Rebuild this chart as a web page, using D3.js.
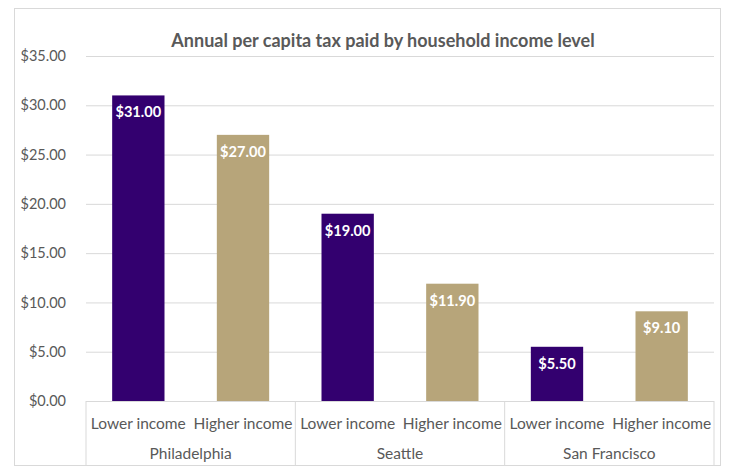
<!DOCTYPE html>
<html>
<head>
<meta charset="utf-8">
<script src="https://cdn.jsdelivr.net/npm/d3@7"></script>
<style>
  body { margin: 0; background: #fff; }
  text { font-family: Lato, "Noto Sans", sans-serif; }
</style>
</head>
<body>
<svg id="chart" width="729" height="472"></svg>
<script>
// data
var cities = ["Philadelphia", "Seattle", "San Francisco"];
var levels = ["Lower income", "Higher income"];
var lowerValues = [31.0, 19.0, 5.5];
var higherValues = [27.0, 11.9, 9.1];
var yTicks = [0, 5, 10, 15, 20, 25, 30, 35];

var colors = {"Lower income": "#33006F", "Higher income": "#B7A57A"};

var svg = d3.select("#chart");

var margin = {top: 56, right: 15, bottom: 71, left: 86},
    width = 714 - margin.left,
    height = 401 - margin.top;

// outer frame
svg.append("rect")
    .attr("x", 14.5).attr("y", 8.5)
    .attr("width", 706).attr("height", 457)
    .attr("fill", "#fff")
    .attr("stroke", "#d9d9d9");

svg.append("text")
    .attr("x", 383).attr("y", 47)
    .attr("text-anchor", "middle")
    .attr("font-size", 18)
    .attr("font-weight", "bold")
    .attr("fill", "#595959")
    .text("Annual per capita tax paid by household income level");

var rows = [];
cities.forEach(function (c, i) {
    rows.push({city: c, level: levels[0], value: lowerValues[i]});
    rows.push({city: c, level: levels[1], value: higherValues[i]});
});

var g = svg.append("g")
    .attr("transform", "translate(" + margin.left + "," + margin.top + ")");

var x = d3.scaleBand()
    .domain(rows.map(function (d, i) { return i; }))
    .range([0, width])
    .paddingInner(0.5)
    .paddingOuter(0.25);

var y = d3.scaleLinear().domain([0, 35]).range([height, 0]);

// gridlines + y labels
var yAxis = d3.axisLeft(y)
    .tickValues(yTicks)
    .tickSize(-width)
    .tickPadding(20)
    .tickFormat(function (d) { return "$" + d3.format(".2f")(d); });

g.append("g")
    .call(yAxis)
    .call(function (s) {
        s.select(".domain").remove();
        s.selectAll("line").attr("stroke", "#d9d9d9");
        s.selectAll("text")
            .attr("fill", "#595959")
            .attr("font-size", 14.5)
            .style("font-family", "Lato, 'Noto Sans', sans-serif");
    });

// bars
g.selectAll("rect.bar")
    .data(rows)
    .enter().append("rect")
    .attr("class", "bar")
    .attr("x", function (d, i) { return x(i); })
    .attr("y", function (d) { return y(d.value); })
    .attr("width", x.bandwidth())
    .attr("height", function (d) { return height - y(d.value); })
    .attr("fill", function (d) { return colors[d.level]; });

g.selectAll("text.val")
    .data(rows)
    .enter().append("text")
    .attr("class", "val")
    .attr("x", function (d, i) { return x(i) + x.bandwidth() / 2; })
    .attr("y", function (d) { return y(d.value) + 22; })
    .attr("text-anchor", "middle")
    .attr("font-size", 14.6)
    .attr("font-weight", "bold")
    .attr("fill", "#fff")
    .text(function (d) { return "$" + d3.format(".2f")(d.value); });

// multi-level category axis
var axisG = g.append("g").attr("transform", "translate(0," + height + ")");

axisG.append("line")
    .attr("x1", 0).attr("x2", width)
    .attr("y1", 0.5).attr("y2", 0.5)
    .attr("stroke", "#d9d9d9");

var cityW = width / cities.length;
d3.range(cities.length + 1).forEach(function (i) {
    axisG.append("line")
        .attr("x1", i * cityW).attr("x2", i * cityW)
        .attr("y1", 0).attr("y2", 64)
        .attr("stroke", "#d9d9d9");
});

axisG.selectAll("text.lvl")
    .data(rows)
    .enter().append("text")
    .attr("class", "lvl")
    .attr("x", function (d, i) { return x(i) + x.bandwidth() / 2; })
    .attr("y", 28)
    .attr("text-anchor", "middle")
    .attr("font-size", 15.5)
    .attr("fill", "#595959")
    .text(function (d) { return d.level; });

axisG.selectAll("text.city")
    .data(cities)
    .enter().append("text")
    .attr("class", "city")
    .attr("x", function (d, i) { return (i + 0.5) * cityW; })
    .attr("y", 58)
    .attr("text-anchor", "middle")
    .attr("font-size", 15.5)
    .attr("fill", "#595959")
    .text(function (d) { return d; });
</script>
</body>
</html>
